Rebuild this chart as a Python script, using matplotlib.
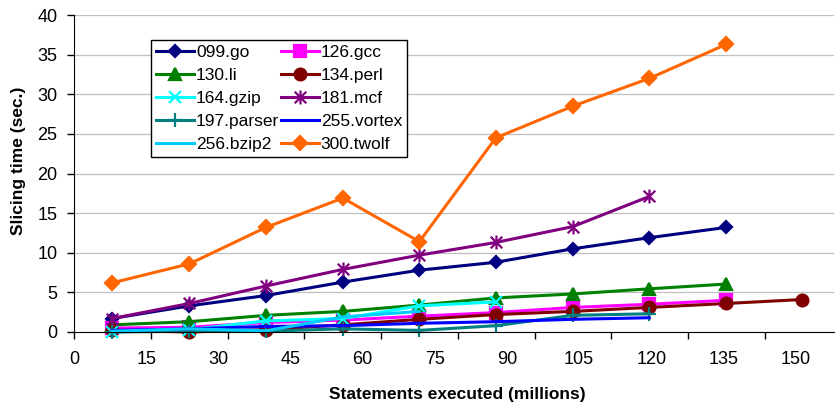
import numpy as np
import matplotlib.pyplot as plt
from matplotlib.path import Path

plt.rcParams['font.family'] = ['Liberation Sans', 'DejaVu Sans']

# statements executed (millions) at each measurement
x_vals = [7.9, 24.0, 39.9, 55.9, 71.8, 87.7, 103.7, 119.6, 135.6, 151.4]

go = [1.7, 3.3, 4.6, 6.3, 7.8, 8.8, 10.5, 11.9, 13.2]
gcc = [0.5, 0.6, 1.2, 1.5, 2.0, 2.45, 3.1, 3.5, 4.0]
li = [0.9, 1.3, 2.1, 2.6, 3.4, 4.3, 4.8, 5.45, 6.05]
perl = [0.2, 0.0, 0.3, 0.9, 1.6, 2.2, 2.6, 3.1, 3.6, 4.1]
gzip = [0.0, 0.3, 1.4, 1.7, 3.3, 3.8]
mcf = [1.7, 3.6, 5.8, 7.9, 9.7, 11.3, 13.3, 17.1]
parser = [0.0, 0.1, 0.1, 0.4, 0.2, 0.8, 2.1, 2.3]
vortex = [0.2, 0.4, 0.7, 0.8, 1.1, 1.3, 1.6, 1.8]
bzip2 = [0.1, 0.4, 0.15, 1.9, 2.6]
twolf = [6.2, 8.6, 13.2, 16.9, 11.4, 24.5, 28.5, 32.0, 36.3]

x_labels = [0, 15, 30, 45, 60, 75, 90, 105, 120, 135, 150]

# excel style star: x plus vertical bar
star = Path([(-0.5, -0.5), (0.5, 0.5), (-0.5, 0.5), (0.5, -0.5), (0, -0.6), (0, 0.6)],
            [Path.MOVETO, Path.LINETO, Path.MOVETO, Path.LINETO, Path.MOVETO, Path.LINETO])

series = [
    ('099.go', go, '#000080', 'D', 6.5),
    ('126.gcc', gcc, '#FF00FF', 's', 8),
    ('130.li', li, '#008000', '^', 8.5),
    ('134.perl', perl, '#800000', 'o', 8.5),
    ('164.gzip', gzip, '#00FFFF', 'x', 8),
    ('181.mcf', mcf, '#800080', star, 10),
    ('197.parser', parser, '#008080', '+', 10),
    ('255.vortex', vortex, '#0000FF', None, 0),
    ('256.bzip2', bzip2, '#00CCFF', None, 0),
    ('300.twolf', twolf, '#FF6600', 'D', 7),
]

fig = plt.figure(figsize=(8.35, 4.09), dpi=100)
ax = fig.add_axes([74/835, 1-332/409, 760/835, 317/409])

handles = []
for name, vals, col, mk, ms in series:
    h, = ax.plot(x_vals[:len(vals)], vals, color=col, lw=2.2, marker=mk, markersize=ms,
                 markeredgewidth=1.6, label=name, clip_on=False)
    handles.append(h)

ax.set_xlim(0, 158)
ax.set_ylim(0, 40)
ax.set_yticks(np.arange(0, 41, 5))
ax.yaxis.grid(True, color='#C0C0C0', lw=0.9)
ax.set_axisbelow(True)
for s in ['top', 'right']:
    ax.spines[s].set_visible(False)

# tick marks and tick labels are not at the same places in the original
ax.xaxis.remove_overlapping_locs = False
ax.set_xticks(np.arange(0, 150, 15.96))
ax.set_xticklabels([])
ax.set_xticks(x_labels, minor=True)
ax.set_xticklabels([str(v) for v in x_labels], minor=True)
ax.tick_params(axis='x', which='major', direction='out', length=5, width=1)
ax.tick_params(axis='x', which='minor', length=0, pad=14, labelsize=13)
ax.tick_params(axis='y', direction='out', length=5, width=1, pad=7, labelsize=13)

fig.text(457/835, 1-394/409, 'Statements executed (millions)', fontsize=12.5,
         fontweight='bold', ha='center', va='center')
fig.text(19/835, 1-161/409, 'Slicing time (sec.)', fontsize=12.5,
         fontweight='bold', ha='center', va='center', rotation=90)

# legend is filled row by row in the original
order = [0, 2, 4, 6, 8, 1, 3, 5, 7, 9]
leg = ax.legend([handles[i] for i in order], [series[i][0] for i in order],
                ncol=2, loc='upper left', bbox_to_anchor=(0.101, 0.921), borderaxespad=0,
                fontsize=12.5, numpoints=1, handlelength=2.2, handletextpad=0.1,
                columnspacing=0.1, labelspacing=0.45, borderpad=0.3, fancybox=False,
                framealpha=1, edgecolor='black')
leg.get_frame().set_linewidth(1)

fig.savefig('out.png', dpi=100)
